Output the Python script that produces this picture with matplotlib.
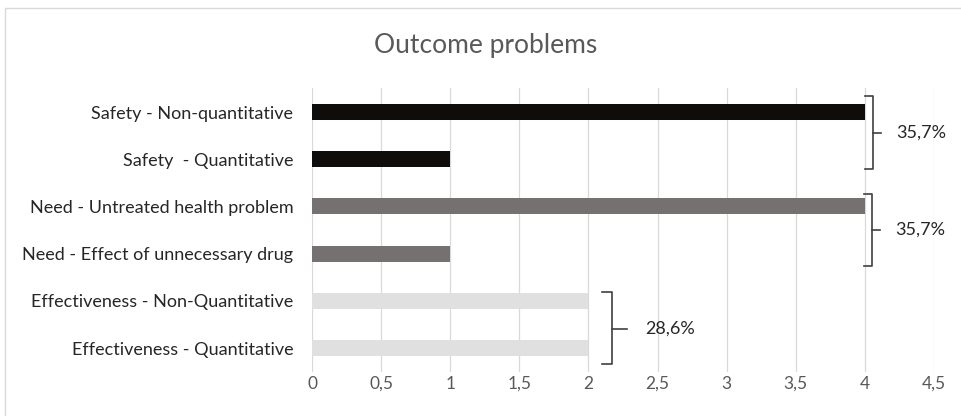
import matplotlib.pyplot as plt
from matplotlib.patches import Rectangle

# outcome problem categories, listed top to bottom
categories = [
    "Safety - Non-quantitative",
    "Safety  - Quantitative",
    "Need - Untreated health problem",
    "Need - Effect of unnecessary drug",
    "Effectiveness - Non-Quantitative",
    "Effectiveness - Quantitative",
]
counts = [4, 1, 4, 1, 2, 2]
groups = ["Safety", "Safety", "Need", "Need", "Effectiveness", "Effectiveness"]
group_colors = {"Safety": "#0f0d0c", "Need": "#767171", "Effectiveness": "#e0e0e0"}

xticks = [0, 0.5, 1, 1.5, 2, 2.5, 3, 3.5, 4, 4.5]

# bracket geometry per group: (y top, y bottom, y middle, x hook, x spine, x tip, x text)
brackets = {
    "Safety": (5.34, 3.79, 4.56, 4.00, 4.06, 4.12, 4.23),
    "Need": (3.26, 1.74, 2.50, 3.99, 4.05, 4.11, 4.22),
    "Effectiveness": (1.19, -0.34, 0.40, 2.10, 2.17, 2.28, 2.41),
}

plt.rcParams['font.family'] = ['Lato', 'DejaVu Sans']

fig = plt.figure(figsize=(9.62, 4.16), dpi=100)
fig.patches.append(Rectangle((5 / 962, -0.1), 1.2, 1 - 8 / 416 + 0.1,
                             transform=fig.transFigure, fill=False,
                             edgecolor="#d9d9d9", linewidth=1.0))

ax = fig.add_axes([312 / 962, 1 - 371.6 / 416, (934 - 312) / 962, (371.6 - 88.4) / 416])

n = len(categories)
ypos = [n - 1 - i for i in range(n)]
ax.barh(ypos, counts, height=0.34, color=[group_colors[g] for g in groups], zorder=3)

ax.set_xlim(0, 4.5)
ax.set_ylim(-0.5, n - 0.5)
ax.set_xticks(xticks)
ax.set_xticklabels([f"{t:g}".replace(".", ",") for t in xticks], fontsize=12.5, color="#595959")
ax.set_yticks(ypos)
ax.set_yticklabels(categories, fontsize=13, color="#262626")
ax.tick_params(axis="both", length=0)
ax.tick_params(axis="x", pad=3)
ax.tick_params(axis="y", pad=13.5)
ax.grid(axis="x", color="#d9d9d9", linewidth=0.9, zorder=0)
for s in ax.spines.values():
    s.set_visible(False)

# group share brackets
total = sum(counts)
for g, (yt, yb, ym, xh, xs, xt, xl) in brackets.items():
    share = sum(c for c, gg in zip(counts, groups) if gg == g) / total * 100
    ax.plot([xh, xs, xs, xh], [yt, yt, yb, yb], color="#404040", linewidth=1.2,
            solid_joinstyle="round", clip_on=False, zorder=4)
    ax.plot([xs, xt], [ym, ym], color="#404040", linewidth=1.2, clip_on=False, zorder=4)
    ax.text(xl, ym, f"{share:.1f}%".replace(".", ","), fontsize=13, color="#262626",
            va="center", ha="left", clip_on=False)

fig.text(486 / 962, 1 - 45 / 416, "Outcome problems", fontsize=19, color="#595959",
         ha="center", va="center")

fig.savefig("out.png", dpi=100)
